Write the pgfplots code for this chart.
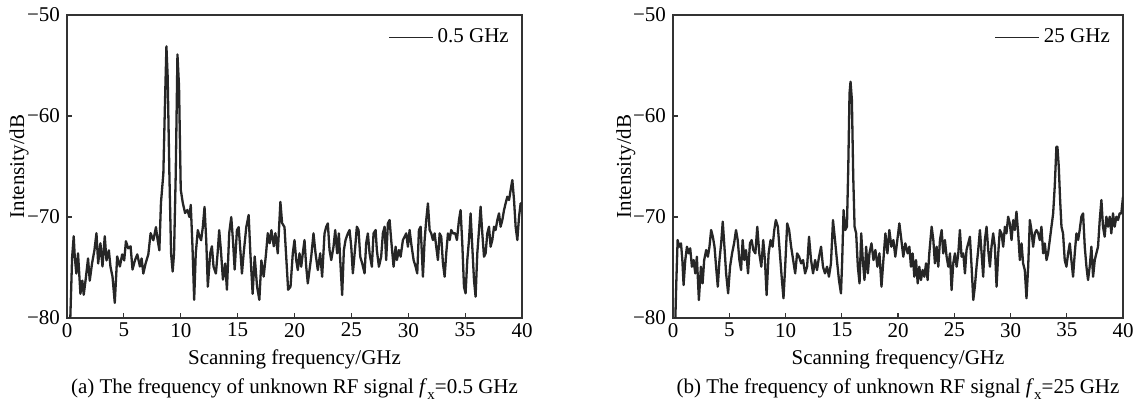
\documentclass[border=0pt]{standalone}
\usepackage{fontspec}
\setmainfont{Liberation Serif}
\usepackage{pgfplots}
\pgfplotsset{compat=1.18}
\newcommand\fs{\fontsize{10.5}{12.6}\selectfont}
\newcommand\fx{\textit{f}\raisebox{-0.55ex}{\fontsize{7.5}{8}\selectfont x}}
\begin{document}
\begin{tikzpicture}[font=\fs]
\path[use as bounding box] (0,0) rectangle (572pt,-201.5pt);
\pgfplotsset{myax/.style={
  scale only axis, height=151.5pt,
  xmin=0, xmax=40, ymin=-80, ymax=-50,
  xtick={0,5,...,40}, ytick={-80,-70,-60,-50},
  yticklabels={−80,−70,−60,−50},
  tick align=inside, xtick pos=bottom, ytick pos=left,
  major tick length=2.5pt,
  /pgf/number format/assume math mode=true,
  axis line style={black!80, line width=0.6pt},
  tick style={black!80, line width=0.6pt},
  tick label style={font=\fs},
  label style={font=\fs},
  xticklabel style={yshift=1pt},
  xlabel={Scanning frequency/GHz}, ylabel={Intensity/dB},
  xlabel style={at={(axis description cs:0.5,-0.135)}, anchor=center},
  ylabel style={at={(axis description cs:-0.105,0.5)}, anchor=center},
  title style={at={(axis description cs:0.5,-0.235)}, anchor=center, yshift=-6pt, font=\fs},
  legend style={draw=none, fill=white, at={(0.985,0.975)}, anchor=north east, font=\fs, inner sep=1pt},
  legend image code/.code={\draw[##1, line width=0.6pt] (0pt,0pt) -- (22pt,0pt);},
  legend cell align=left,
}}
\begin{axis}[myax, at={(33.5pt,-159pt)}, anchor=south west, width=227.5pt,
  title={(a) The frequency of unknown RF signal \fx=0.5 GHz}]
\addplot[black!85, line width=1.15pt, line join=round] coordinates {
(0.29,-80) (0.45,-74) (0.59,-71.9) (0.68,-73.9) (0.82,-75.6) (0.97,-73.6) (1.18,-77.6) (1.35,-76.3) (1.47,-77.7) (1.65,-76.1) (1.85,-74.1) (2.0,-76.3) (2.2,-74.6) (2.41,-73.3) (2.59,-71.6) (2.74,-74.6) (2.94,-72.6) (3.12,-74.9) (3.32,-71.9) (3.47,-74.3) (3.68,-73.3) (3.82,-74.9) (4.0,-75.9) (4.2,-78.5) (4.41,-73.9) (4.65,-74.9) (4.85,-73.7) (5.03,-74.3) (5.18,-72.4) (5.38,-73.1) (5.59,-72.9) (5.76,-75.2) (5.97,-74.3) (6.18,-73.7) (6.41,-74.9) (6.56,-74.1) (6.71,-75.6) (6.91,-74.6) (7.15,-73.7) (7.35,-71.6) (7.59,-72.3) (7.82,-71.0) (7.97,-72.3) (8.12,-73.3) (8.26,-68.6) (8.47,-65.7) (8.62,-58.4) (8.74,-53.1) (8.85,-56.1) (9.0,-65.7) (9.15,-73.6) (9.29,-75.4) (9.41,-73.6) (9.56,-65.7) (9.71,-53.9) (9.85,-57.1) (10.0,-67.3) (10.18,-68.6) (10.38,-69.6) (10.59,-69.3) (10.76,-70.0) (10.88,-68.8) (11.03,-72.9) (11.18,-78.2) (11.32,-73.6) (11.5,-71.3) (11.65,-71.9) (11.79,-72.3) (11.94,-71.0) (12.09,-69.0) (12.24,-72.3) (12.38,-76.9) (12.59,-73.6) (12.74,-72.9) (12.88,-74.9) (13.09,-75.6) (13.24,-73.6) (13.38,-71.3) (13.53,-73.3) (13.71,-76.2) (13.91,-74.6) (14.06,-77.2) (14.26,-71.6) (14.44,-70.0) (14.59,-72.3) (14.74,-75.2) (14.94,-71.3) (15.09,-71.0) (15.24,-73.3) (15.38,-75.6) (15.53,-73.6) (15.76,-71.0) (15.97,-69.8) (16.12,-73.6) (16.32,-77.6) (16.5,-73.9) (16.71,-76.9) (16.91,-78.2) (17.09,-74.3) (17.29,-75.9) (17.5,-73.6) (17.65,-71.6) (17.82,-72.6) (17.97,-71.3) (18.18,-72.9) (18.32,-71.6) (18.53,-73.6) (18.76,-68.5) (18.91,-70.6) (19.12,-71.0) (19.29,-74.3) (19.44,-77.2) (19.65,-76.9) (19.85,-73.6)
(20.0,-72.28) (20.15,-74.26) (20.29,-75.25) (20.44,-73.6) (20.59,-74.92) (20.73,-73.6) (20.88,-72.28) (21.03,-74.92) (21.17,-76.57) (21.32,-75.25) (21.47,-73.93) (21.67,-71.62) (21.85,-73.6) (22.05,-75.25) (22.26,-73.6) (22.43,-75.91) (22.64,-71.62) (22.79,-70.96) (22.93,-70.63) (23.08,-73.27) (23.23,-74.26) (23.43,-72.94) (23.58,-71.29) (23.75,-73.6) (23.9,-71.62) (24.02,-74.26) (24.19,-77.72) (24.34,-73.27) (24.49,-72.28) (24.69,-71.62) (24.84,-71.29) (24.99,-72.94) (25.13,-75.58) (25.34,-72.94) (25.48,-70.96) (25.63,-71.29) (25.78,-73.93) (25.95,-74.59) (26.16,-75.58) (26.3,-72.61) (26.45,-71.62) (26.6,-73.6) (26.8,-74.92) (26.95,-71.62) (27.13,-71.29) (27.24,-73.27) (27.42,-74.92) (27.62,-73.93) (27.77,-71.62) (27.92,-70.96) (28.06,-74.26) (28.21,-70.63) (28.36,-70.3) (28.5,-72.28) (28.71,-74.92) (28.89,-72.94) (29.0,-74.26) (29.18,-73.27) (29.33,-73.93) (29.53,-72.28) (29.68,-71.95) (29.82,-71.62) (29.97,-72.94) (30.12,-71.29) (30.26,-72.61) (30.47,-74.26) (30.65,-74.92) (30.79,-75.58) (30.94,-71.29) (31.09,-70.96) (31.29,-75.91) (31.44,-72.28) (31.58,-70.3) (31.73,-68.65) (31.88,-71.29) (32.02,-71.62) (32.17,-72.28) (32.32,-71.62) (32.46,-72.94) (32.61,-74.26) (32.76,-71.62) (32.9,-71.95) (33.05,-74.59) (33.2,-75.91) (33.34,-73.6) (33.49,-71.62) (33.64,-72.28) (33.78,-71.29) (33.93,-71.62) (34.13,-71.62) (34.28,-72.28) (34.46,-70.3) (34.6,-69.31) (34.75,-72.61) (34.9,-76.9) (35.04,-77.56) (35.19,-74.26) (35.34,-72.28) (35.48,-69.64) (35.63,-72.94) (35.78,-76.24) (35.92,-77.89) (36.07,-73.6) (36.22,-71.29) (36.36,-68.98) (36.51,-71.62) (36.66,-73.93) (36.8,-73.6) (36.95,-71.62) (37.1,-70.96) (37.24,-72.94) (37.39,-72.28) (37.54,-70.96) (37.68,-71.29) (37.83,-70.3) (37.98,-69.64) (38.12,-70.96) (38.27,-70.3) (38.42,-69.31) (38.56,-68.65) (38.71,-67.99) (38.86,-68.32) (39.0,-67.33) (39.15,-66.34) (39.3,-68.32) (39.44,-70.96) (39.59,-72.28) (39.74,-69.97) (39.88,-68.65) (40.0,-68.65)
};
\addlegendentry{0.5 GHz}
\end{axis}
\begin{axis}[myax, at={(336.5pt,-159pt)}, anchor=south west, width=225pt,
  title={(b) The frequency of unknown RF signal \fx=25 GHz}]
\addplot[black!85, line width=1.15pt, line join=round] coordinates {
(0.21,-80) (0.29,-76.6) (0.41,-72.28) (0.56,-72.94) (0.71,-72.61) (0.83,-74.26) (0.94,-76.74) (1.09,-74.26) (1.24,-72.94) (1.39,-73.6) (1.53,-73.1) (1.68,-74.92) (1.83,-74.26) (1.98,-75.58) (2.12,-73.93) (2.3,-78.22) (2.48,-74.92) (2.63,-76.57) (2.77,-74.26) (2.95,-73.27) (3.1,-73.93) (3.24,-72.94) (3.39,-71.29) (3.54,-71.95) (3.69,-72.94) (3.83,-74.92) (3.98,-76.9) (4.13,-74.26) (4.28,-72.61) (4.42,-70.46) (4.57,-72.94) (4.72,-75.58) (4.9,-77.56) (5.07,-74.92) (5.25,-73.6) (5.43,-72.61) (5.6,-71.29) (5.75,-72.28) (5.9,-74.26) (6.05,-75.25) (6.19,-72.28) (6.34,-74.26) (6.49,-73.27) (6.67,-75.58) (6.84,-72.61) (6.99,-72.28) (7.14,-73.27) (7.32,-73.6) (7.49,-70.96) (7.67,-73.6) (7.85,-74.92) (8.02,-72.28) (8.17,-74.26) (8.32,-77.72) (8.5,-73.6) (8.67,-72.28) (8.85,-72.94) (9.0,-71.29) (9.14,-70.3) (9.32,-70.96) (9.5,-73.6) (9.68,-76.24) (9.82,-78.05) (9.97,-74.92) (10.15,-70.63) (10.32,-71.29) (10.5,-72.94) (10.68,-74.26) (10.86,-75.58) (11.03,-73.6) (11.21,-73.93) (11.39,-74.59) (11.56,-74.26) (11.74,-75.58) (11.92,-74.92) (12.09,-71.95) (12.27,-74.26) (12.45,-75.58) (12.63,-74.26) (12.8,-75.25) (12.98,-73.93) (13.16,-72.94) (13.33,-74.92) (13.51,-75.58) (13.69,-74.92) (13.86,-75.91) (14.04,-74.59) (14.22,-70.3) (14.4,-72.28) (14.57,-74.26) (14.75,-76.24) (14.93,-77.56) (15.04,-74.26) (15.16,-69.31) (15.31,-71.29) (15.46,-70.96) (15.58,-65.0) (15.69,-57.76) (15.78,-56.6) (15.9,-58.4) (16.02,-66.0) (16.14,-70.96) (16.28,-71.62) (16.43,-74.92) (16.58,-76.57) (16.73,-71.62) (16.87,-74.26) (17.02,-76.24) (17.17,-72.94) (17.32,-75.58) (17.46,-73.6) (17.64,-72.61) (17.82,-74.26) (17.99,-73.27) (18.17,-74.92) (18.35,-73.6) (18.53,-76.9) (18.7,-74.26) (18.88,-71.62) (19.06,-73.6) (19.23,-71.29) (19.41,-72.94) (19.59,-72.28) (19.76,-73.93) (19.94,-72.28) (20.12,-70.63) (20.3,-72.28) (20.47,-73.93) (20.65,-72.61) (20.86,-73.6)
(21.01,-72.94) (21.15,-74.92) (21.3,-73.6) (21.45,-75.91) (21.6,-74.26) (21.75,-76.57) (21.89,-74.92) (22.04,-76.24) (22.19,-75.25) (22.34,-75.91) (22.49,-74.59) (22.63,-76.24) (22.78,-73.6) (22.99,-70.96) (23.14,-72.28) (23.28,-74.59) (23.43,-72.94) (23.58,-74.92) (23.73,-72.28) (23.88,-71.29) (24.02,-73.6) (24.17,-72.28) (24.32,-73.93) (24.47,-74.92) (24.62,-73.6) (24.76,-77.23) (24.91,-74.59) (25.06,-73.6) (25.21,-74.92) (25.36,-73.6) (25.5,-71.29) (25.65,-73.93) (25.8,-73.6) (25.95,-75.58) (26.09,-73.27) (26.24,-72.61) (26.39,-71.95) (26.54,-74.92) (26.69,-78.22) (26.83,-76.9) (26.98,-74.92) (27.13,-73.27) (27.28,-71.29) (27.43,-73.6) (27.57,-75.91) (27.72,-72.28) (27.87,-70.96) (28.02,-73.27) (28.17,-74.92) (28.31,-72.94) (28.46,-71.62) (28.61,-72.94) (28.76,-76.9) (28.91,-73.6) (29.05,-71.29) (29.2,-71.62) (29.35,-72.94) (29.5,-70.96) (29.64,-71.62) (29.79,-69.97) (29.94,-70.63) (30.09,-72.28) (30.24,-70.3) (30.38,-71.29) (30.53,-69.47) (30.68,-71.62) (30.83,-74.26) (30.98,-72.61) (31.12,-74.59) (31.27,-75.25) (31.42,-78.05) (31.57,-74.92) (31.72,-70.3) (31.86,-71.29) (32.01,-72.94) (32.16,-71.62) (32.31,-71.29) (32.46,-71.62) (32.6,-72.28) (32.75,-70.96) (32.9,-73.6) (33.05,-72.61) (33.2,-74.26) (33.34,-73.6) (33.49,-72.28) (33.64,-70.96) (33.79,-69.64) (33.93,-66.99) (34.08,-63.04) (34.17,-63.04) (34.29,-65.02) (34.41,-68.32) (34.53,-70.96) (34.67,-71.62) (34.82,-74.26) (34.97,-74.92) (35.12,-73.6) (35.27,-72.61) (35.41,-74.26) (35.56,-75.91) (35.71,-73.6) (35.86,-71.62) (36.01,-72.28) (36.15,-71.29) (36.3,-69.97) (36.45,-69.64) (36.6,-72.94) (36.75,-74.92) (36.89,-76.24) (37.04,-74.92) (37.19,-72.94) (37.34,-75.91) (37.49,-74.26) (37.63,-73.6) (37.78,-72.94) (37.93,-70.3) (38.08,-68.32) (38.22,-70.96) (38.37,-71.95) (38.52,-69.97) (38.67,-70.96) (38.82,-69.97) (38.96,-71.62) (39.11,-69.64) (39.26,-70.96) (39.41,-69.97) (39.56,-70.3) (39.7,-69.64) (39.85,-69.64) (40.0,-67.99)
};
\addlegendentry{25 GHz}
\end{axis}
\end{tikzpicture}
\end{document}
